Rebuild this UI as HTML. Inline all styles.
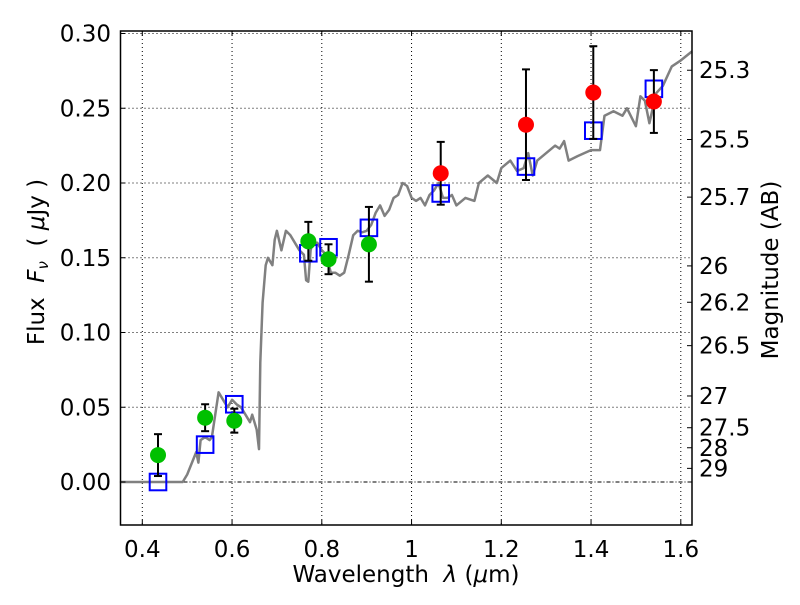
<!DOCTYPE html>
<html><head><meta charset="utf-8"><style>
body{margin:0;background:#fff;}
svg text{font-family:"DejaVu Sans","Liberation Sans",sans-serif;fill:#000;}
</style></head><body>
<svg id="chart" width="800" height="600" xmlns="http://www.w3.org/2000/svg">
<rect width="800" height="600" fill="#fff"/>
<g id="grid"></g>
<g id="spec"></g>
<g id="marks"></g>
<g id="axes"></g>
<text x="406" y="582" font-size="23" text-anchor="middle">Wavelength&#160;&#160;<tspan font-style="italic">λ</tspan> (<tspan font-style="italic">μ</tspan>m)</text>
<text transform="translate(44,262) rotate(-90)" font-size="23" text-anchor="middle">Flux&#160;&#160;<tspan font-style="italic">F<tspan font-size="15" dy="4">ν</tspan></tspan><tspan dy="-4">&#160;&#160;(&#160;</tspan><tspan font-style="italic">μ</tspan>Jy )</text>
<text transform="translate(778,270) rotate(-90)" font-size="23" text-anchor="middle">Magnitude (AB)</text>
</svg>
<script>
const xTicks=[0.4,0.6,0.8,1.0,1.2,1.4,1.6];
const xTickLabels=["0.4","0.6","0.8","1","1.2","1.4","1.6"];
const yTicks=[0,0.05,0.1,0.15,0.2,0.25,0.3];
const yTickLabels=["0.00","0.05","0.10","0.15","0.20","0.25","0.30"];
const magTicks=[25.3,25.5,25.7,26,26.2,26.5,27,27.5,28,29];
const magTickLabels=["25.3","25.5","25.7","26","26.2","26.5","27","27.5","28","29"];
const specX=[0.35,0.49,0.5,0.52,0.525,0.53,0.54,0.55,0.555,0.56,0.57,0.58,0.59,0.6,0.61,0.62,0.63,0.64,0.645,0.655,0.66,0.663,0.668,0.675,0.68,0.69,0.695,0.7,0.71,0.72,0.73,0.74,0.75,0.76,0.765,0.77,0.775,0.78,0.79,0.8,0.81,0.82,0.83,0.84,0.85,0.86,0.87,0.88,0.89,0.9,0.91,0.92,0.93,0.94,0.95,0.96,0.97,0.98,0.99,1.0,1.01,1.02,1.03,1.04,1.05,1.06,1.07,1.08,1.09,1.1,1.12,1.14,1.15,1.17,1.19,1.2,1.22,1.235,1.25,1.26,1.27,1.28,1.3,1.32,1.33,1.34,1.35,1.37,1.4,1.42,1.43,1.45,1.47,1.48,1.5,1.51,1.52,1.53,1.545,1.56,1.58,1.6,1.625];
const specY=[0,0,0.005,0.02,0.013,0.028,0.03,0.028,0.03,0.04,0.06,0.055,0.05,0.055,0.052,0.05,0.045,0.04,0.045,0.035,0.022,0.08,0.12,0.145,0.15,0.145,0.162,0.168,0.155,0.168,0.165,0.16,0.155,0.152,0.135,0.134,0.155,0.16,0.16,0.155,0.152,0.14,0.14,0.138,0.14,0.152,0.165,0.168,0.167,0.168,0.172,0.18,0.185,0.178,0.182,0.19,0.192,0.2,0.198,0.19,0.188,0.19,0.185,0.192,0.195,0.2,0.19,0.19,0.192,0.185,0.19,0.188,0.2,0.205,0.2,0.21,0.215,0.208,0.21,0.22,0.205,0.215,0.22,0.225,0.223,0.228,0.215,0.218,0.222,0.222,0.245,0.248,0.245,0.25,0.238,0.258,0.255,0.24,0.26,0.265,0.278,0.282,0.288];
const modelX=[0.435,0.54,0.605,0.77,0.815,0.905,1.065,1.255,1.405,1.54];
const modelY=[0.0,0.025,0.052,0.153,0.157,0.170,0.193,0.211,0.235,0.263];
const greenX=[0.435,0.54,0.605,0.77,0.815,0.905];
const greenY=[0.018,0.043,0.041,0.161,0.149,0.159];
const greenErr=[0.014,0.009,0.008,0.013,0.010,0.025];
const redX=[1.065,1.255,1.405,1.54];
const redY=[0.2065,0.239,0.2605,0.2545];
const redErr=[0.021,0.037,0.031,0.021];

const L=120.5,R=692,T=31,B=525;
const xs=v=>142.3+(v-0.4)*448.75;
const ys=v=>482-v*1495;
const NS="http://www.w3.org/2000/svg";
function mk(tag,attrs,parent){const e=document.createElementNS(NS,tag);for(const k in attrs)e.setAttribute(k,attrs[k]);document.getElementById(parent).appendChild(e);return e;}

xTicks.forEach((t,i)=>{
  const x=xs(t);
  const g=mk('line',{x1:x,x2:x,y1:T,y2:B,stroke:'#000','stroke-width':1,'stroke-dasharray':'1,3'},'grid');
  
  
  const a=mk('line',{x1:x,x2:x,y1:B,y2:B-5,stroke:'#000'},'axes');
  
  
  const b=mk('line',{x1:x,x2:x,y1:T,y2:T+5,stroke:'#000'},'axes');
  
  
  const tx=mk('text',{x:x,y:557,'font-size':23,'text-anchor':'middle'},'axes');
  tx.textContent=xTickLabels[i];
  
  
});
yTicks.forEach((t,i)=>{
  const y=ys(t);
  const g=mk('line',{x1:L,x2:R,y1:y,y2:y,stroke:'#000','stroke-width':1,'stroke-dasharray':t===0?'4,2,1,2':'1,3'},'grid');
  
  
  const a=mk('line',{x1:L,x2:L+5,y1:y,y2:y,stroke:'#000'},'axes');
  
  
  const tx=mk('text',{x:111,y:y+8,'font-size':23,'text-anchor':'end'},'axes');
  tx.textContent=yTickLabels[i];
  
  
});
magTicks.forEach((m,i)=>{
  const y=ys(Math.pow(10,(23.9-m)/2.5));
  const a=mk('line',{x1:R,x2:R-5,y1:y,y2:y,stroke:'#000'},'axes');
  
  
  const tx=mk('text',{x:699,y:y+8,'font-size':23},'axes');
  tx.textContent=magTickLabels[i];
  
  
});
const fr=mk('rect',{x:L,y:T,width:R-L,height:B-T,fill:'none',stroke:'#000','stroke-width':1.5},'axes');



const pts=specX.map((v,i)=>xs(v).toFixed(1)+','+ys(specY[i]).toFixed(1)).join(' ');
const sp=mk('polyline',{points:pts,fill:'none',stroke:'#808080','stroke-width':2.5,'stroke-linejoin':'round'},'spec');



function errbar(x,y,e){
  const X=xs(x);
  const l=mk('line',{x1:X,x2:X,y1:ys(y-e),y2:ys(y+e),stroke:'#000','stroke-width':2},'marks');
  
  
  [y-e,y+e].forEach(v=>{
    const c=mk('line',{x1:X-4,x2:X+4,y1:ys(v),y2:ys(v),stroke:'#000','stroke-width':2},'marks');
    
    
  });
}
modelX.forEach((v,i)=>{
  const s=mk('rect',{x:xs(v)-8.3,y:ys(modelY[i])-8.3,width:16.6,height:16.6,fill:'none',stroke:'#0000ff','stroke-width':2},'marks');
  
  
});
greenX.forEach((v,i)=>{
  errbar(v,greenY[i],greenErr[i]);
  const c=mk('circle',{cx:xs(v),cy:ys(greenY[i]),r:8,fill:'#00c000'},'marks');
  
  
});
redX.forEach((v,i)=>{
  errbar(v,redY[i],redErr[i]);
  const c=mk('circle',{cx:xs(v),cy:ys(redY[i]),r:8,fill:'#ff0000'},'marks');
  
  
});
</script>
</body></html>
